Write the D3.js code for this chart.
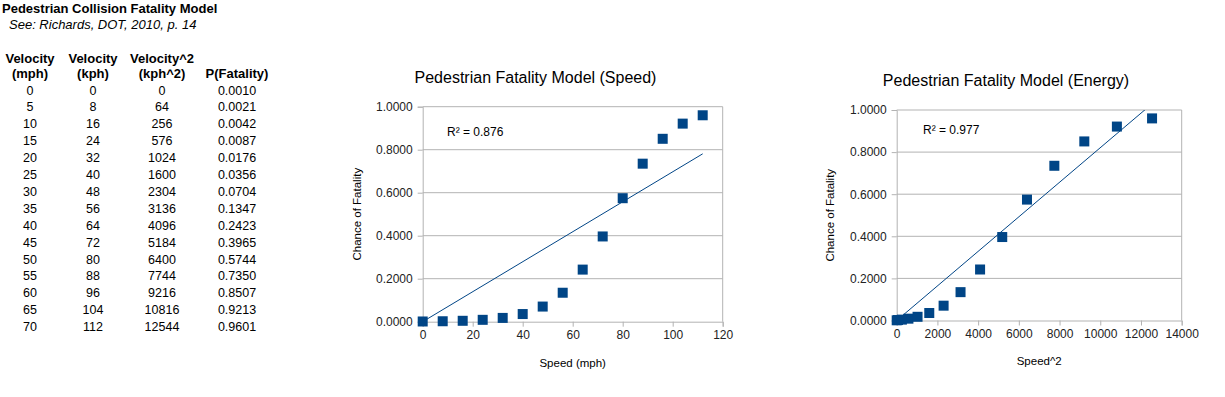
<!DOCTYPE html>
<html>
<head>
<meta charset="utf-8">
<script src="https://cdn.jsdelivr.net/npm/d3@7"></script>
<style>
  body { margin: 0; background: #fff; }
  svg { display: block; font-family: "Liberation Sans", Arial, sans-serif; }
</style>
</head>
<body>
<svg id="page" width="1225" height="397"></svg>
<script>
'use strict';

// table data
var mph = [0, 5, 10, 15, 20, 25, 30, 35, 40, 45, 50, 55, 60, 65, 70];
var kph = [0, 8, 16, 24, 32, 40, 48, 56, 64, 72, 80, 88, 96, 104, 112];
var kph2 = [0, 64, 256, 576, 1024, 1600, 2304, 3136, 4096, 5184, 6400, 7744, 9216, 10816, 12544];
var pFatality = [0.0010, 0.0021, 0.0042, 0.0087, 0.0176, 0.0356, 0.0704, 0.1347, 0.2423, 0.3965, 0.5744, 0.7350, 0.8507, 0.9213, 0.9601];

var yTicks = [0, 0.2, 0.4, 0.6, 0.8, 1.0];
var speedTicks = [0, 20, 40, 60, 80, 100, 120];
var energyTicks = [0, 2000, 4000, 6000, 8000, 10000, 12000, 14000];

var blue = '#004586',
    grid = '#b3b3b3';

var svg = d3.select('#page');

/** TABLE */
var cols = [30, 93, 162, 237];
var tbl = svg.append('g');

tbl.append('text')
    .attr('x', 2).attr('y', 12.5)
    .attr('font-size', 13).attr('font-weight', 'bold')
    .text('Pedestrian Collision Fatality Model');
tbl.append('text')
    .attr('x', 9).attr('y', 29)
    .attr('font-size', 13).attr('font-style', 'italic')
    .text('See: Richards, DOT, 2010, p. 14');

var head1 = ['Velocity', 'Velocity', 'Velocity^2', ''];
var head2 = ['(mph)', '(kph)', '(kph^2)', 'P(Fatality)'];
[head1, head2].forEach(function(row, r) {
    tbl.selectAll(null)
        .data(row)
        .enter()
        .append('text')
        .attr('x', function(d, i) { return cols[i]; })
        .attr('y', 63 + r * 14.5)
        .attr('text-anchor', 'middle')
        .attr('font-size', 13)
        .attr('font-weight', 'bold')
        .text(function(d) { return d; });
});

var rows = mph.map(function(m, i) {
    return [m, kph[i], kph2[i], pFatality[i].toFixed(4)];
});
tbl.selectAll('g.row')
    .data(rows)
    .enter()
    .append('g')
    .attr('class', 'row')
    .attr('transform', function(d, i) { return 'translate(0,' + (94.5 + i * 16.9) + ')'; })
    .selectAll('text')
    .data(function(d) { return d; })
    .enter()
    .append('text')
    .attr('x', function(d, i) { return cols[i]; })
    .attr('text-anchor', 'middle')
    .attr('font-size', 12.5)
    .text(function(d) { return d; });

/** SCATTER CHARTS */
function drawChart(opt) {
    var g = svg.append('g');
    var x = d3.scaleLinear().domain(opt.xDomain).range([opt.left, opt.right]);
    var y = d3.scaleLinear().domain([0, 1]).range([opt.bottom, opt.top]);

    g.append('text')
        .attr('x', opt.titleX).attr('y', opt.titleY)
        .attr('text-anchor', 'middle')
        .attr('font-size', 16)
        .text(opt.title);

    // gridlines
    g.selectAll('line.grid')
        .data(yTicks.slice(1))
        .enter()
        .append('line')
        .attr('x1', opt.left).attr('x2', opt.right)
        .attr('y1', function(d) { return y(d); })
        .attr('y2', function(d) { return y(d); })
        .attr('stroke', grid);
    g.append('line')
        .attr('x1', opt.right).attr('x2', opt.right)
        .attr('y1', opt.top).attr('y2', opt.bottom)
        .attr('stroke', grid);

    var yAxis = g.append('g')
        .attr('transform', 'translate(' + opt.left + ',0)')
        .call(d3.axisLeft(y).tickValues(yTicks).tickSize(5).tickPadding(5)
            .tickFormat(d3.format('.4f')));
    var xAxis = g.append('g')
        .attr('transform', 'translate(0,' + opt.bottom + ')')
        .call(d3.axisBottom(x).tickValues(opt.xTicks).tickSize(5).tickPadding(4)
            .tickFormat(d3.format('d')));
    [yAxis, xAxis].forEach(function(a) {
        a.select('.domain').attr('stroke', grid);
        a.selectAll('.tick line').attr('stroke', grid);
        a.selectAll('.tick text')
            .attr('fill', '#222')
            .attr('font-size', 12)
            .attr('font-family', '"Liberation Sans", Arial, sans-serif');
    });

    // trend line through origin
    var sxy = d3.sum(opt.xs, function(d, i) { return d * pFatality[i]; });
    var sxx = d3.sum(opt.xs, function(d) { return d * d; });
    var slope = sxy / sxx;
    var xMax = d3.max(opt.xs);

    g.append('clipPath')
        .attr('id', opt.id)
        .append('rect')
        .attr('x', opt.left).attr('y', opt.top)
        .attr('width', opt.right - opt.left)
        .attr('height', opt.bottom - opt.top);
    g.append('line')
        .attr('clip-path', 'url(#' + opt.id + ')')
        .attr('x1', x(0)).attr('y1', y(0))
        .attr('x2', x(xMax)).attr('y2', y(slope * xMax))
        .attr('stroke', blue)
        .attr('stroke-width', 1);

    var s = 10;
    g.selectAll('rect.pt')
        .data(opt.xs)
        .enter()
        .append('rect')
        .attr('class', 'pt')
        .attr('x', function(d) { return x(d) - s / 2; })
        .attr('y', function(d, i) { return y(pFatality[i]) - s / 2; })
        .attr('width', s).attr('height', s)
        .attr('fill', blue);

    g.append('text')
        .attr('x', opt.rX).attr('y', opt.rY)
        .attr('font-size', 12)
        .text(opt.rText);

    g.append('text')
        .attr('transform', 'translate(' + opt.yTitleX + ',' + ((opt.top + opt.bottom) / 2) + ') rotate(-90)')
        .attr('text-anchor', 'middle')
        .attr('font-size', 11.5)
        .text('Chance of Fatality');
    g.append('text')
        .attr('x', (opt.left + opt.right) / 2).attr('y', opt.xTitleY)
        .attr('text-anchor', 'middle')
        .attr('font-size', 11.5)
        .text(opt.xTitle);
}

drawChart({
    id: 'clipSpeed',
    title: 'Pedestrian Fatality Model (Speed)',
    titleX: 535.5, titleY: 83,
    left: 422.7, right: 722.7, top: 106.7, bottom: 321.7,
    xDomain: [0, 120], xTicks: speedTicks, xs: kph,
    rText: 'R² = 0.876', rX: 447, rY: 136,
    yTitleX: 361, xTitle: 'Speed (mph)', xTitleY: 367
});

drawChart({
    id: 'clipEnergy',
    title: 'Pedestrian Fatality Model (Energy)',
    titleX: 1006, titleY: 86,
    left: 896.7, right: 1181.7, top: 110, bottom: 320.5,
    xDomain: [0, 14000], xTicks: energyTicks, xs: kph2,
    rText: 'R² = 0.977', rX: 923, rY: 134,
    yTitleX: 834, xTitle: 'Speed^2', xTitleY: 365
});
</script>
</body>
</html>
